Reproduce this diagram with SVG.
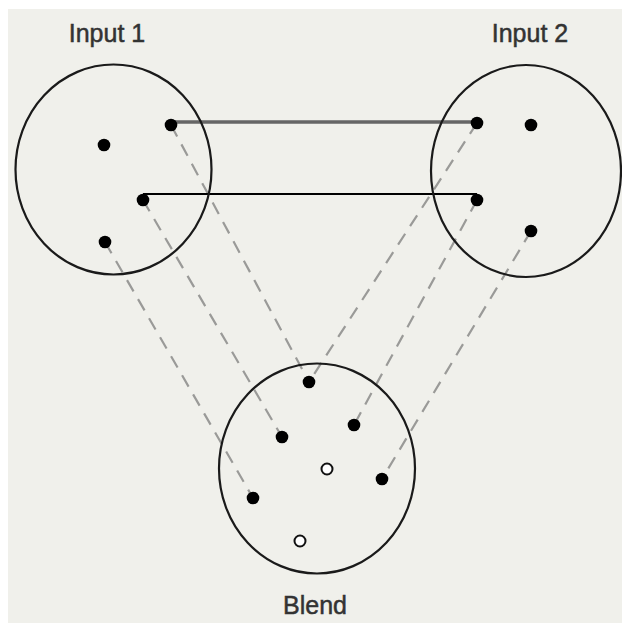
<svg xmlns="http://www.w3.org/2000/svg" width="622" height="623" viewBox="0 0 622 623">
<style>
.bg{fill:#f0f0eb}
.set{fill:none;stroke:#1a1a1a;stroke-width:2.2}
.dot{fill:#000}
.open{fill:#fff;stroke:#111;stroke-width:2}
.dash{stroke:#9a9a98;stroke-width:2.2;stroke-dasharray:13 9;fill:none}
.lbl{font-family:"Liberation Sans",Arial,sans-serif;font-size:25px;fill:#333;stroke:#333;stroke-width:0.5}
</style>
<rect width="622" height="623" fill="#fff"/>
<rect class="bg" x="8" y="9" width="614" height="614"/>
<g id="connectors">
<line class="dash" x1="171" y1="125" x2="309" y2="382"/>
<line class="dash" x1="143" y1="200" x2="282" y2="437"/>
<line class="dash" x1="105" y1="242" x2="253" y2="498"/>
<line class="dash" x1="477" y1="123" x2="309" y2="382"/>
<line class="dash" x1="477" y1="200" x2="354" y2="425"/>
<line class="dash" x1="531" y1="231" x2="382" y2="479"/>
<line x1="171" y1="122" x2="477" y2="122" stroke="#666" stroke-width="3.5"/>
<line x1="143" y1="194" x2="477" y2="194" stroke="#000" stroke-width="2.2"/>
</g>
<g id="input1">
<ellipse class="set" cx="113.5" cy="169.5" rx="98" ry="105"/>
<circle class="dot" cx="104" cy="145" r="6.3"/>
<circle class="dot" cx="171" cy="125" r="6.3"/>
<circle class="dot" cx="143" cy="200" r="6.3"/>
<circle class="dot" cx="105" cy="242" r="6.3"/>
<text class="lbl" x="107" y="42" text-anchor="middle">Input 1</text>
</g>
<g id="input2">
<ellipse class="set" cx="526" cy="171" rx="95" ry="106"/>
<circle class="dot" cx="477" cy="123" r="6.3"/>
<circle class="dot" cx="531" cy="125" r="6.3"/>
<circle class="dot" cx="477" cy="200" r="6.3"/>
<circle class="dot" cx="531" cy="231" r="6.3"/>
<text class="lbl" x="530" y="42" text-anchor="middle">Input 2</text>
</g>
<g id="blend">
<ellipse class="set" cx="317" cy="468.5" rx="98" ry="105"/>
<circle class="dot" cx="309" cy="382" r="6.3"/>
<circle class="dot" cx="282" cy="437" r="6.3"/>
<circle class="dot" cx="354" cy="425" r="6.3"/>
<circle class="dot" cx="382" cy="479" r="6.3"/>
<circle class="dot" cx="253" cy="498" r="6.3"/>
<circle class="open" cx="327" cy="469" r="5.5"/>
<circle class="open" cx="300" cy="541" r="5.5"/>
<text class="lbl" x="315" y="614" text-anchor="middle">Blend</text>
</g>
</svg>
